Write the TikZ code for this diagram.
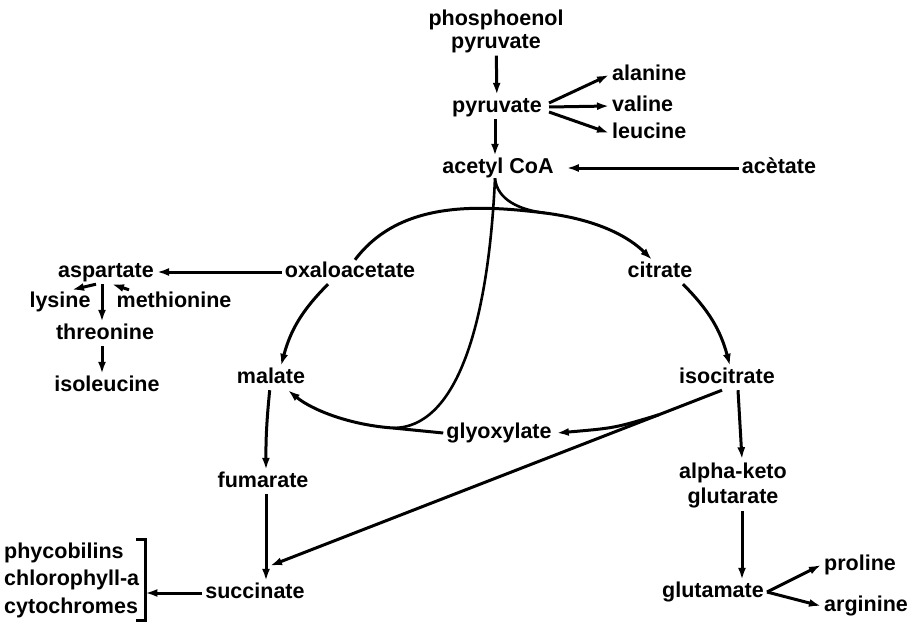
\documentclass[tikz,border=0pt]{standalone}
\usepackage{fontspec}
\setmainfont{Liberation Sans}
\usetikzlibrary{shapes,arrows.meta}

\begin{document}
\begin{tikzpicture}[x=1pt,y=-1pt,
  cmpd/.style={font=\fontsize{21.5}{24}\selectfont\bfseries, inner sep=3pt, text height=14pt, text depth=4pt},
  cmpds/.style={inner sep=3pt, align=center},
  flow/.style={-{Latex[length=12pt,width=8pt]}, line width=3pt},
  link/.style={line width=2.6pt}]
\useasboundingbox (0,0) rectangle (910,632);
% compounds
\node[cmpds, font=\fontsize{21.5}{23}\selectfont\bfseries] (pep) at (496,31) {phosphoenol\\pyruvate};
\node[cmpd] (pyr) at (497,107) {pyruvate};
\node[cmpd, anchor=west] (ala) at (609,75) {alanine};
\node[cmpd, anchor=west] (val) at (609,106) {valine};
\node[cmpd, anchor=west] (leu) at (609,133) {leucine};
\node[cmpd] (acoa) at (498,168) {acetyl CoA};
\node[cmpd] (ace) at (779,168) {acètate};
\node[cmpd] (oxa) at (350,272) {oxaloacetate};
\node[cmpd] (cit) at (660,272) {citrate};
\node[cmpd] (asp) at (106,272) {aspartate};
\node[cmpd] (lys) at (60,302) {lysine};
\node[cmpd] (met) at (174,302) {methionine};
\node[cmpd] (thr) at (105,334) {threonine};
\node[cmpd] (ile) at (107,386) {isoleucine};
\node[cmpd] (mal) at (271,378) {malate};
\node[cmpd] (isoc) at (727,378) {isocitrate};
\node[cmpd] (gly) at (499,433) {glyoxylate};
\node[cmpd] (fum) at (263,482) {fumarate};
\node[cmpds, font=\fontsize{21.5}{25}\selectfont\bfseries] (akg) at (733,485) {alpha-keto\\glutarate};
\node[cmpd] (suc) at (255,593) {succinate};
\node[cmpd] (glu) at (713,592) {glutamate};
\node[cmpd, anchor=west] (pro) at (821,565) {proline};
\node[cmpd, anchor=west] (arg) at (821,606) {arginine};
\node[cmpds, align=left, anchor=west, font=\fontsize{21.5}{27.5}\selectfont\bfseries] (pig) at (1,580) {phycobilins\\chlorophyll-a\\cytochromes};

% top of the pathway
\draw[flow] (pep) -- (pyr);
\foreach \t/\s in {ala/4,val/0,leu/-5}
  \draw[flow] ([xshift=4pt,yshift=\s pt]pyr.east) -- (\t.west);
\draw[flow] ([xshift=-2pt]pyr.south) -- ([xshift=-3pt]acoa.north);
\draw[flow, shorten >=10pt] (ace) -- (acoa);
\coordinate (cusp) at ([xshift=-3pt,yshift=2pt]acoa.south);

% cycle
\coordinate (merge) at (545,213);
\draw[flow] ([xshift=5pt]oxa.north) .. controls (400,200) and (480,205) .. (merge)
  .. controls (600,220) and (630,238) .. ([xshift=-8pt]cit.north);
\draw[link] (cusp) .. controls (497,200) and (520,210) .. (merge);
\draw[flow] ([xshift=23pt]cit.south) to[bend left=15] ([xshift=3pt]isoc.north);
\draw[flow] ([xshift=-22pt]oxa.south) to[bend right=15] ([xshift=10pt]mal.north);
\draw[flow] (mal) to[bend right=3] ([xshift=3pt]fum.north);
\draw[flow] ([xshift=3pt]fum.south) -- ([xshift=11pt]suc.north);
\draw[flow] ([xshift=11pt]isoc.south) -- ([xshift=9pt]akg.north);
\draw[flow] ([xshift=9pt]akg.south) -- ([xshift=29pt]glu.north);

% glyoxylate shunt
\coordinate (j) at (393,428);
\draw[link] (cusp) .. controls (488,330) and (455,428) .. (j);
\draw[flow] (gly.west) -- (j) .. controls (350,425) and (312,410) .. ([xshift=17pt]mal.south);
\draw[flow] ([xshift=-5pt]isoc.south) -- ([xshift=15pt,yshift=15pt]suc.north) coordinate[pos=.14] (fork);
\draw[flow] (fork) .. controls (615,428) .. ([xshift=2pt]gly.east);

% side branches
\draw[flow] (oxa) -- (asp);
\draw[flow] ([xshift=-10pt]asp.south) -- ([xshift=12pt]lys.north);
\draw[flow] ([xshift=-45pt]met.north) -- ([xshift=6pt]asp.south);
\draw[flow] ([xshift=-4pt]asp.south) -- ([xshift=-3pt]thr.north);
\draw[flow] ([xshift=-3pt]thr.south) -- ([xshift=-5pt]ile.north);
\foreach \t in {pro,arg}
  \draw[flow] (glu.east) -- (\t.west);
\coordinate (brk) at ([xshift=3pt]pig.east);
\draw[line width=2.6pt] ([xshift=-6pt]pig.north east) -- ([xshift=3pt]pig.north east) -- ([xshift=3pt]pig.south east) -- ([xshift=-6pt]pig.south east);
\draw[flow] (suc) -- (suc -| brk);
\end{tikzpicture}
\end{document}
